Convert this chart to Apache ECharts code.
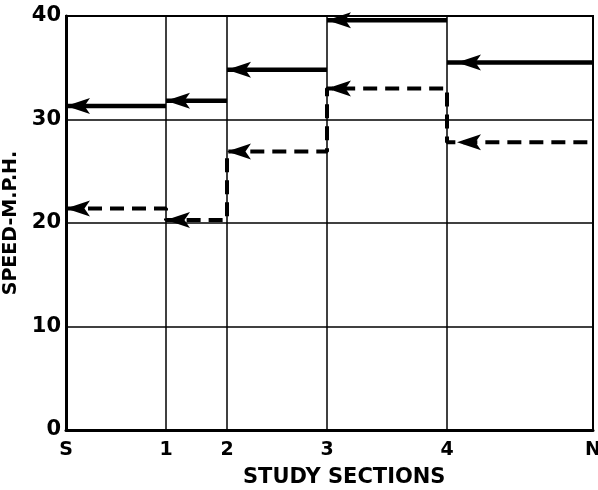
<!DOCTYPE html>
<html>
<head>
<meta charset="utf-8">
<script src="https://cdn.jsdelivr.net/npm/echarts@6/dist/echarts.min.js"></script>
<style>html,body{margin:0;padding:0;background:#fff;}#c{width:598px;height:490px;}</style>
</head>
<body>
<div id="c"></div>
<script>
// Section boundaries along the route (S .. N) and their labels
const sectionLabels = ['S', '1', '2', '3', '4', 'N'];
const sectionBounds = [0, 1.00, 1.61, 2.61, 3.81, 5.27];
// Speeds (m.p.h.) per section S-1, 1-2, 2-3, 3-4, 4-N
const solidSpeeds = [31.3, 31.8, 34.8, 39.6, 35.5];
const dashedSpeeds = [21.4, 20.3, 26.9, 33.0, 27.8];
// Arrow tip positions (start of each section's arrow)
const arrowStarts = [0, 1.00, 1.61, 2.61, 3.91];
const yTicks = [0, 10, 20, 30, 40];

const FONT = 'DejaVu Sans';

// Solid: separate horizontal segments (no vertical risers)
const solidData = [];
solidSpeeds.forEach((v, i) => {
  solidData.push([sectionBounds[i], v], [sectionBounds[i + 1], v]);
  if (i < solidSpeeds.length - 1) solidData.push(null);
});
// Dashed: continuous step line
const dashedData = [];
dashedSpeeds.forEach((v, i) => {
  dashedData.push([sectionBounds[i], v], [sectionBounds[i + 1], v]);
});
const solidArrows = solidSpeeds.map((v, i) => [arrowStarts[i], v]);
const dashedArrows = dashedSpeeds.map((v, i) => [arrowStarts[i], v]);

const arrowPath = 'path://M0,5 L13,0 L10,5 L13,10 Z';

const chart = echarts.init(document.getElementById('c'), null, { renderer: 'canvas' });
chart.setOption({
  backgroundColor: '#fff',
  animation: false,
  grid: { left: 66, right: 5, top: 16, bottom: 60, containLabel: false, outerBoundsMode: 'none',
    show: true, borderColor: '#000', borderWidth: 2, backgroundColor: 'transparent' },
  xAxis: {
    type: 'value',
    min: sectionBounds[0],
    max: sectionBounds[sectionBounds.length - 1],
    axisLine: { show: true, lineStyle: { color: '#000', width: 3 } },
    axisTick: { show: false, customValues: sectionBounds },
    axisLabel: {
      customValues: sectionBounds,
      color: '#000', fontFamily: FONT, fontWeight: 'bold', fontSize: 19, margin: 11,
      formatter: (v) => {
        let best = 0;
        sectionBounds.forEach((b, i) => { if (Math.abs(b - v) < Math.abs(sectionBounds[best] - v)) best = i; });
        return sectionLabels[best];
      }
    },
    splitLine: { show: true, lineStyle: { color: '#000', width: 1.5 } }
  },
  yAxis: {
    type: 'value',
    min: 0, max: 40, interval: 10,
    name: 'SPEED-M.P.H.',
    nameLocation: 'middle',
    nameGap: 38,
    nameTextStyle: { color: '#000', fontFamily: FONT, fontWeight: 'bold', fontSize: 19 },
    axisLine: { show: true, lineStyle: { color: '#000', width: 3 } },
    axisTick: { show: false },
    axisLabel: { color: '#000', fontFamily: FONT, fontWeight: 'bold', fontSize: 21, margin: 5,
      formatter: (v) => yTicks.includes(v) ? String(v) : '' },
    splitLine: { show: true, lineStyle: { color: '#000', width: 1.5 } }
  },
  graphic: [{
    type: 'text', left: 243, top: 467,
    style: { text: 'STUDY SECTIONS', fill: '#000', font: 'bold 21px "DejaVu Sans"' }
  }],
  series: [
    {
      type: 'line', data: solidData, symbol: 'none', connectNulls: false, clip: false,
      lineStyle: { color: '#000', width: 4.5, type: 'solid' }
    },
    {
      type: 'line', data: dashedData, symbol: 'none', clip: false,
      lineStyle: { color: '#000', width: 4, type: [14, 8] }
    },
    {
      type: 'scatter', data: solidArrows, symbol: arrowPath, symbolSize: [24, 16], symbolOffset: [12, 0],
      itemStyle: { color: '#000', opacity: 1 }, clip: false, z: 5
    },
    {
      type: 'scatter', data: dashedArrows, symbol: arrowPath, symbolSize: [24, 16], symbolOffset: [12, 0],
      itemStyle: { color: '#000', opacity: 1 }, clip: false, z: 5
    }
  ]
});
</script>
</body>
</html>
